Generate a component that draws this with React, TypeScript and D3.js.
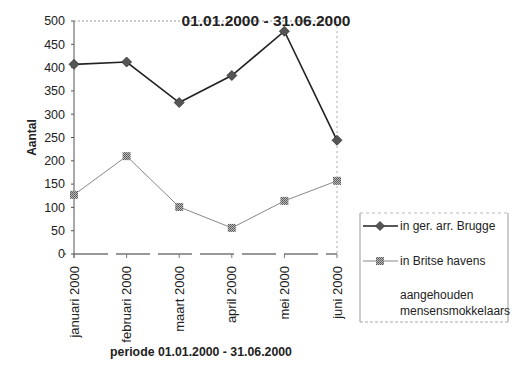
import React from "react";
import * as d3 from "d3";

const months = ["januari 2000", "februari 2000", "maart 2000", "april 2000", "mei 2000", "juni 2000"];
const brugge = [407, 412, 325, 383, 478, 244];
const britse = [127, 210, 101, 56, 114, 157];
const yTicks = [0, 50, 100, 150, 200, 250, 300, 350, 400, 450, 500];
const legendLabels = ["in ger. arr. Brugge", "in Britse havens"];
const legendExtra = ["aangehouden", "mensensmokkelaars"];
const title = "01.01.2000 - 31.06.2000";
const xTitle = "periode 01.01.2000 - 31.06.2000";
const yTitle = "Aantal";

export default function App() {
  const W = 532, H = 367;
  const left = 74, right = 337, top = 21, bottom = 254;
  const x = d3.scalePoint<string>().domain(months).range([left, right]);
  const y = d3.scaleLinear().domain([0, 500]).range([bottom, top]);
  const line = d3.line<number>().x((_, i) => x(months[i])!).y((d) => y(d));
  const font = "Liberation Sans, Arial, sans-serif";
  const diamond = (cx: number, cy: number, s: number) =>
    `M${cx},${cy - s}L${cx + s},${cy}L${cx},${cy + s}L${cx - s},${cy}Z`;

  return (
    <svg width={W} height={H} style={{ position: "absolute", left: 0, top: 0, background: "#fff" }} fontFamily={font}>
      <defs>
        <pattern id="hatch" width="2" height="2" patternUnits="userSpaceOnUse">
          <rect width="2" height="2" fill="#bbb" />
          <rect width="1" height="1" fill="#555" />
          <rect x="1" y="1" width="1" height="1" fill="#666" />
        </pattern>
      </defs>
      {/* plot frame */}
      <line x1={left} x2={right} y1={top} y2={top} stroke="#999" strokeDasharray="2,2" strokeWidth={1} />
      <line x1={right} x2={right} y1={top} y2={bottom} stroke="#aaa" strokeDasharray="2,3" strokeWidth={1} />
      <line x1={left} x2={left} y1={top} y2={bottom + 4} stroke="#555" strokeWidth={1} />
      <line x1={left - 10} x2={right} y1={bottom} y2={bottom} stroke="#333" strokeWidth={1.2} strokeDasharray="34,8" strokeDashoffset={-10} />
      {yTicks.map((t) => (
        <g key={t}>
          <line x1={left - 3} x2={left} y1={y(t)} y2={y(t)} stroke="#555" />
          <text x={left - 9} y={y(t)} dy="0.35em" textAnchor="end" fontSize={12.5} fill="#222">{t}</text>
        </g>
      ))}
      {months.map((m) => (
        <g key={m}>
          <line x1={x(m)!} x2={x(m)!} y1={bottom} y2={bottom + 4} stroke="#777" />
          <text transform={`translate(${x(m)! + 4.5},${bottom + 12}) rotate(-90)`} textAnchor="end" fontSize={13} fill="#222">{m}</text>
        </g>
      ))}
      <text x={266} y={top} dy="0.35em" textAnchor="middle" fontSize={15.5} fontWeight="bold" fill="#222">{title}</text>
      <text transform={`translate(36,${(top + bottom) / 2}) rotate(-90)`} textAnchor="middle" fontSize={12} fontWeight="bold" fill="#222">{yTitle}</text>
      <text x={201} y={356} textAnchor="middle" fontSize={12.3} fontWeight="bold" fill="#222">{xTitle}</text>

      {/* series */}
      <path d={line(britse)!} fill="none" stroke="#888" strokeWidth={1} />
      {britse.map((v, i) => (
        <rect key={i} x={x(months[i])! - 4} y={y(v) - 4} width={8} height={8} fill="url(#hatch)" />
      ))}
      <path d={line(brugge)!} fill="none" stroke="#222" strokeWidth={1.6} />
      {brugge.map((v, i) => (
        <path key={i} d={diamond(x(months[i])!, y(v), 5)} fill="#555" stroke="#333" strokeWidth={0.8} />
      ))}

      {/* legend */}
      <g>
        <line x1={360} x2={508} y1={213} y2={213} stroke="#bbb" strokeDasharray="3,3" />
        <line x1={360} x2={360} y1={213} y2={322} stroke="#999" />
        <line x1={508} x2={508} y1={213} y2={322} stroke="#999" />
        <line x1={360} x2={508} y1={322} y2={322} stroke="#aaa" strokeDasharray="3,2" />
        <line x1={363} x2={398} y1={226} y2={226} stroke="#222" strokeWidth={1.6} />
        <path d={diamond(380, 226, 4.5)} fill="#555" stroke="#333" strokeWidth={0.8} />
        <text x={400} y={226} dy="0.35em" fontSize={12} fill="#222">{legendLabels[0]}</text>
        <line x1={363} x2={398} y1={261} y2={261} stroke="#888" strokeWidth={1} />
        <rect x={376} y={257} width={8} height={8} fill="url(#hatch)" />
        <text x={400} y={261} dy="0.35em" fontSize={12} fill="#222">{legendLabels[1]}</text>
        <text x={400} y={295} dy="0.35em" fontSize={12} fill="#222">{legendExtra[0]}</text>
        <text x={400} y={311} dy="0.35em" fontSize={12} fill="#222">{legendExtra[1]}</text>
      </g>
    </svg>
  );
}
